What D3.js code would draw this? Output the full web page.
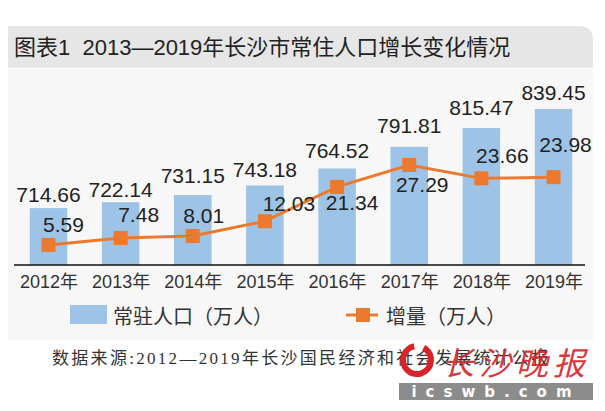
<!DOCTYPE html>
<html>
<head>
<meta charset="utf-8">
<script src="https://cdn.jsdelivr.net/npm/d3@7/dist/d3.min.js"></script>
<style>
  body { margin: 0; background: #fff; }
  svg { display: block; }
</style>
</head>
<body>
<svg id="chart"></svg>
<script>
// data
var years = ["2012年", "2013年", "2014年", "2015年", "2016年", "2017年", "2018年", "2019年"];
var population = [714.66, 722.14, 731.15, 743.18, 764.52, 791.81, 815.47, 839.45];
var increase = [5.59, 7.48, 8.01, 12.03, 21.34, 27.29, 23.66, 23.98];

// label nudges (layout only)
var popLabelLift = [6, 5, 12, 8, 11, 14, 13, 9];
var incLabelDx = [15, 18, 11, 24, 15, 13, 21, 12];
var incLabelDy = [-13, -16, -13, -10, 23, 27, -15, -25];

var W = 605, H = 411;
var svg = d3.select("#chart").attr("width", W).attr("height", H);
var numFont = "'Liberation Sans', Arial, 'Noto Sans CJK SC', sans-serif";

// background panels
svg.append("rect")
    .attr("x", 8).attr("y", 69).attr("width", 585).attr("height", 271)
    .attr("fill", "#f7f7f7");

// title bar with rounded top-right corner
svg.append("path")
    .attr("d", "M8,26 H579 Q593,26 593,40 V68 H8 Z")
    .attr("fill", "#e6e6e6");
svg.append("text")
    .attr("x", 14).attr("y", 47)
    .attr("dominant-baseline", "central")
    .attr("font-family", numFont)
    .attr("font-size", 22)
    .attr("fill", "#222")
    .text("图表1\u00a0\u00a02013—2019年长沙市常住人口增长变化情况");

// scales
var x = d3.scalePoint().domain(years).range([12.4, 589.6]).padding(0.5);
var barW = x.step() * 0.52;
var y = d3.scaleLinear().domain([643, 839.45]).range([265, 109]);
var y2 = d3.scaleLinear().domain([0, 30]).range([265.5, 155]);

var g = svg.append("g");

// bars
g.selectAll(".bar")
    .data(population)
    .enter().append("rect")
    .attr("class", "bar")
    .attr("x", function (d, i) { return x(years[i]) - barW / 2; })
    .attr("y", function (d) { return y(d); })
    .attr("width", barW)
    .attr("height", function (d) { return 265 - y(d); })
    .attr("fill", "#9dc3e6");

// bar labels
g.selectAll(".plabel")
    .data(population)
    .enter().append("text")
    .attr("x", function (d, i) { return x(years[i]); })
    .attr("y", function (d, i) { return y(d) - popLabelLift[i]; })
    .attr("text-anchor", "middle")
    .attr("font-family", numFont)
    .attr("font-size", 21)
    .attr("fill", "#222")
    .text(function (d) { return d.toFixed(2); });

// x axis
var xAxis = g.append("g")
    .attr("transform", "translate(0,265)")
    .call(d3.axisBottom(x).tickSize(0).tickPadding(10));
xAxis.select(".domain").remove();
xAxis.selectAll("text")
    .attr("font-family", numFont)
    .attr("font-size", 18)
    .attr("fill", "#333");
g.append("line")
    .attr("x1", 14).attr("x2", 585)
    .attr("y1", 265).attr("y2", 265)
    .attr("stroke", "#111").attr("stroke-width", 1.5);

// increase line
var line = d3.line()
    .x(function (d, i) { return x(years[i]); })
    .y(function (d) { return y2(d); });
g.append("path")
    .datum(increase)
    .attr("fill", "none")
    .attr("stroke", "#ec7a2e")
    .attr("stroke-width", 3)
    .attr("d", line);

g.selectAll(".mark")
    .data(increase)
    .enter().append("rect")
    .attr("x", function (d, i) { return x(years[i]) - 7; })
    .attr("y", function (d) { return y2(d) - 7; })
    .attr("width", 14).attr("height", 14)
    .attr("fill", "#ec7a2e");

g.selectAll(".ilabel")
    .data(increase)
    .enter().append("text")
    .attr("x", function (d, i) { return x(years[i]) + incLabelDx[i]; })
    .attr("y", function (d, i) { return y2(d) + incLabelDy[i]; })
    .attr("text-anchor", "middle")
    .attr("font-family", numFont)
    .attr("font-size", 21)
    .attr("fill", "#222")
    .text(function (d) { return d.toFixed(2); });

// legend
var lg = svg.append("g");
lg.append("rect")
    .attr("x", 70).attr("y", 305).attr("width", 37).attr("height", 19)
    .attr("fill", "#9dc3e6");
lg.append("text")
    .attr("x", 113).attr("y", 315)
    .attr("dominant-baseline", "central")
    .attr("font-family", "'Noto Sans CJK SC', sans-serif")
    .attr("font-size", 20)
    .attr("fill", "#333")
    .text("常驻人口（万人）");
lg.append("line")
    .attr("x1", 346).attr("x2", 378).attr("y1", 315).attr("y2", 315)
    .attr("stroke", "#ec7a2e").attr("stroke-width", 3);
lg.append("rect")
    .attr("x", 356).attr("y", 308).attr("width", 14).attr("height", 14)
    .attr("fill", "#ec7a2e");
lg.append("text")
    .attr("x", 386).attr("y", 315)
    .attr("dominant-baseline", "central")
    .attr("font-family", "'Noto Sans CJK SC', sans-serif")
    .attr("font-size", 20)
    .attr("fill", "#333")
    .text("增量（万人）");

// source
svg.append("text")
    .attr("x", 52).attr("y", 358)
    .attr("dominant-baseline", "central")
    .attr("font-family", "'Liberation Serif', 'Noto Sans CJK SC', serif")
    .attr("font-size", 17)
    .attr("letter-spacing", 2.3)
    .attr("fill", "#333")
    .text("数据来源:2012—2019年长沙国民经济和社会发展统计公报");

// watermark
var wm = svg.append("g");
wm.append("path")
    .attr("d", d3.arc()({ innerRadius: 11, outerRadius: 17, startAngle: 0.5, endAngle: 2 * Math.PI - 0.2 }))
    .attr("transform", "translate(417,360)")
    .attr("fill", "#d8232a");
wm.append("text")
    .attr("x", 442).attr("y", 361)
    .attr("dominant-baseline", "central")
    .attr("font-family", "'Noto Sans CJK SC', sans-serif")
    .attr("font-style", "italic")
    .attr("font-size", 32)
    .attr("letter-spacing", 5)
    .attr("fill", "#d8232a")
    .attr("opacity", 0.9)
    .text("长沙晚报");
wm.append("rect")
    .attr("x", 399).attr("y", 383).attr("width", 194).attr("height", 17)
    .attr("fill", "#8c8c8c");
wm.append("text")
    .attr("x", 496).attr("y", 392)
    .attr("text-anchor", "middle")
    .attr("dominant-baseline", "central")
    .attr("font-family", "'DejaVu Sans', sans-serif")
    .attr("font-size", 15)
    .attr("font-weight", "bold")
    .attr("letter-spacing", 9)
    .attr("fill", "#fff")
    .text("icswb.com");
</script>
</body>
</html>
